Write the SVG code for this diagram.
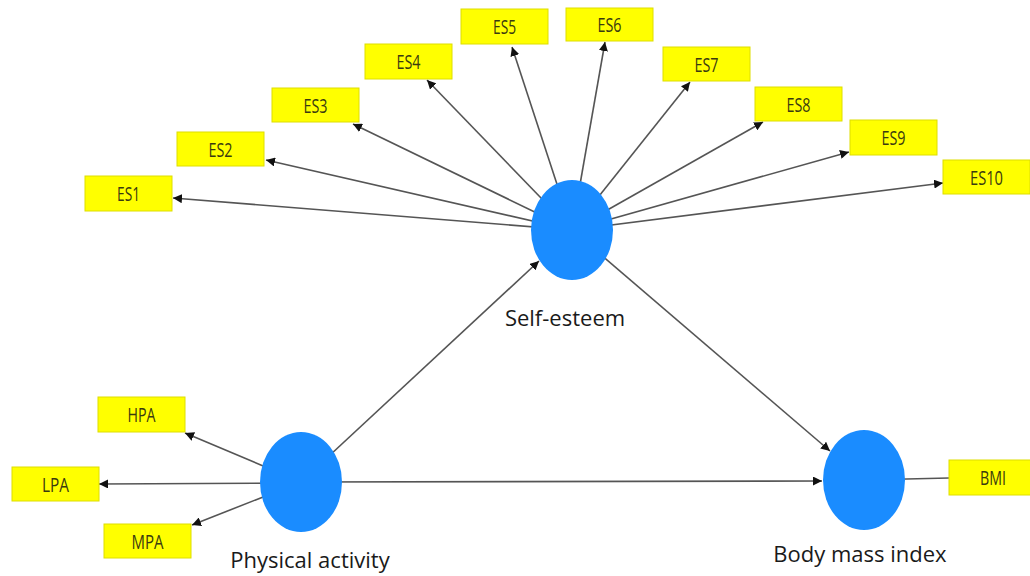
<svg xmlns="http://www.w3.org/2000/svg" width="1030" height="576" viewBox="0 0 1030 576">
<defs>
<style>
.box{fill:#ffff00;stroke:#dede00;stroke-width:1}
.bt{font-family:"Open Sans","Liberation Sans",sans-serif;font-size:20px;fill:#3a3a10;text-anchor:middle}
.lv{fill:#1a8cff}
.lt{font-family:"Open Sans","Liberation Sans",sans-serif;font-size:22px;fill:#1a1a1a;text-anchor:middle}
.ln{stroke:#555;stroke-width:1.6;fill:none}
</style>
<marker id="ah" viewBox="0 0 10 10" refX="10" refY="5" markerWidth="9" markerHeight="9" markerUnits="userSpaceOnUse" orient="auto">
<path d="M0,0 L10,5 L0,10 z" fill="#111"/>
</marker>
</defs>
<rect width="1030" height="576" fill="#fff"/>
<g id="connectors">
<line class="ln" x1="572" y1="230" x2="173" y2="198" marker-end="url(#ah)"/>
<line class="ln" x1="572" y1="230" x2="266" y2="160" marker-end="url(#ah)"/>
<line class="ln" x1="572" y1="230" x2="353" y2="124" marker-end="url(#ah)"/>
<line class="ln" x1="572" y1="230" x2="427" y2="80" marker-end="url(#ah)"/>
<line class="ln" x1="572" y1="230" x2="512" y2="47" marker-end="url(#ah)"/>
<line class="ln" x1="572" y1="230" x2="605" y2="42" marker-end="url(#ah)"/>
<line class="ln" x1="572" y1="230" x2="690" y2="82" marker-end="url(#ah)"/>
<line class="ln" x1="572" y1="230" x2="763" y2="122" marker-end="url(#ah)"/>
<line class="ln" x1="572" y1="230" x2="849" y2="152" marker-end="url(#ah)"/>
<line class="ln" x1="572" y1="230" x2="943" y2="183" marker-end="url(#ah)"/>
<line class="ln" x1="301" y1="482" x2="539" y2="261" marker-end="url(#ah)"/>
<line class="ln" x1="572" y1="230" x2="830" y2="451" marker-end="url(#ah)"/>
<line class="ln" x1="301" y1="482" x2="822" y2="481" marker-end="url(#ah)"/>
<line class="ln" x1="864" y1="480" x2="949" y2="478"/>
<line class="ln" x1="301" y1="482" x2="185" y2="433" marker-end="url(#ah)"/>
<line class="ln" x1="301" y1="483" x2="99" y2="484" marker-end="url(#ah)"/>
<line class="ln" x1="301" y1="482" x2="192" y2="525" marker-end="url(#ah)"/>
</g>
<g id="ES1"><rect class="box" x="85" y="176" width="87" height="35"/><text class="bt" x="128.5" y="201" textLength="23" lengthAdjust="spacingAndGlyphs">ES1</text></g>
<g id="ES2"><rect class="box" x="177" y="132" width="87" height="34"/><text class="bt" x="220.5" y="156.5" textLength="24" lengthAdjust="spacingAndGlyphs">ES2</text></g>
<g id="ES3"><rect class="box" x="272" y="88" width="87" height="34"/><text class="bt" x="315.5" y="112.5" textLength="24" lengthAdjust="spacingAndGlyphs">ES3</text></g>
<g id="ES4"><rect class="box" x="365" y="44" width="87" height="35"/><text class="bt" x="408.5" y="69" textLength="24" lengthAdjust="spacingAndGlyphs">ES4</text></g>
<g id="ES5"><rect class="box" x="461" y="9" width="87" height="35"/><text class="bt" x="504.5" y="34" textLength="23" lengthAdjust="spacingAndGlyphs">ES5</text></g>
<g id="ES6"><rect class="box" x="566" y="8" width="87" height="33"/><text class="bt" x="609.5" y="32" textLength="24" lengthAdjust="spacingAndGlyphs">ES6</text></g>
<g id="ES7"><rect class="box" x="663" y="47" width="87" height="34"/><text class="bt" x="706.5" y="71.5" textLength="24" lengthAdjust="spacingAndGlyphs">ES7</text></g>
<g id="ES8"><rect class="box" x="755" y="87" width="87" height="34"/><text class="bt" x="798.5" y="111.5" textLength="24" lengthAdjust="spacingAndGlyphs">ES8</text></g>
<g id="ES9"><rect class="box" x="850" y="120" width="87" height="35"/><text class="bt" x="893.5" y="145" textLength="24" lengthAdjust="spacingAndGlyphs">ES9</text></g>
<g id="ES10"><rect class="box" x="943" y="160" width="87" height="34"/><text class="bt" x="986.5" y="184.5" textLength="33" lengthAdjust="spacingAndGlyphs">ES10</text></g>
<g id="HPA"><rect class="box" x="98" y="397" width="87" height="35"/><text class="bt" x="141.5" y="421.5" textLength="28" lengthAdjust="spacingAndGlyphs">HPA</text></g>
<g id="LPA"><rect class="box" x="12" y="467" width="87" height="34"/><text class="bt" x="55.5" y="491.5" textLength="27" lengthAdjust="spacingAndGlyphs">LPA</text></g>
<g id="MPA"><rect class="box" x="104" y="524" width="87" height="34"/><text class="bt" x="147.5" y="548.5" textLength="32" lengthAdjust="spacingAndGlyphs">MPA</text></g>
<g id="BMI"><rect class="box" x="949" y="460" width="87" height="35"/><text class="bt" x="993" y="485" textLength="26" lengthAdjust="spacingAndGlyphs">BMI</text></g>
<g id="self-esteem"><ellipse class="lv" cx="572" cy="230" rx="41" ry="50"/><text class="lt" x="565" y="326">Self-esteem</text></g>
<g id="physical-activity"><ellipse class="lv" cx="301" cy="482" rx="41" ry="50"/><text class="lt" x="310" y="568">Physical activity</text></g>
<g id="body-mass-index"><ellipse class="lv" cx="864" cy="480" rx="41" ry="50"/><text class="lt" x="860" y="562">Body mass index</text></g>
</svg>
